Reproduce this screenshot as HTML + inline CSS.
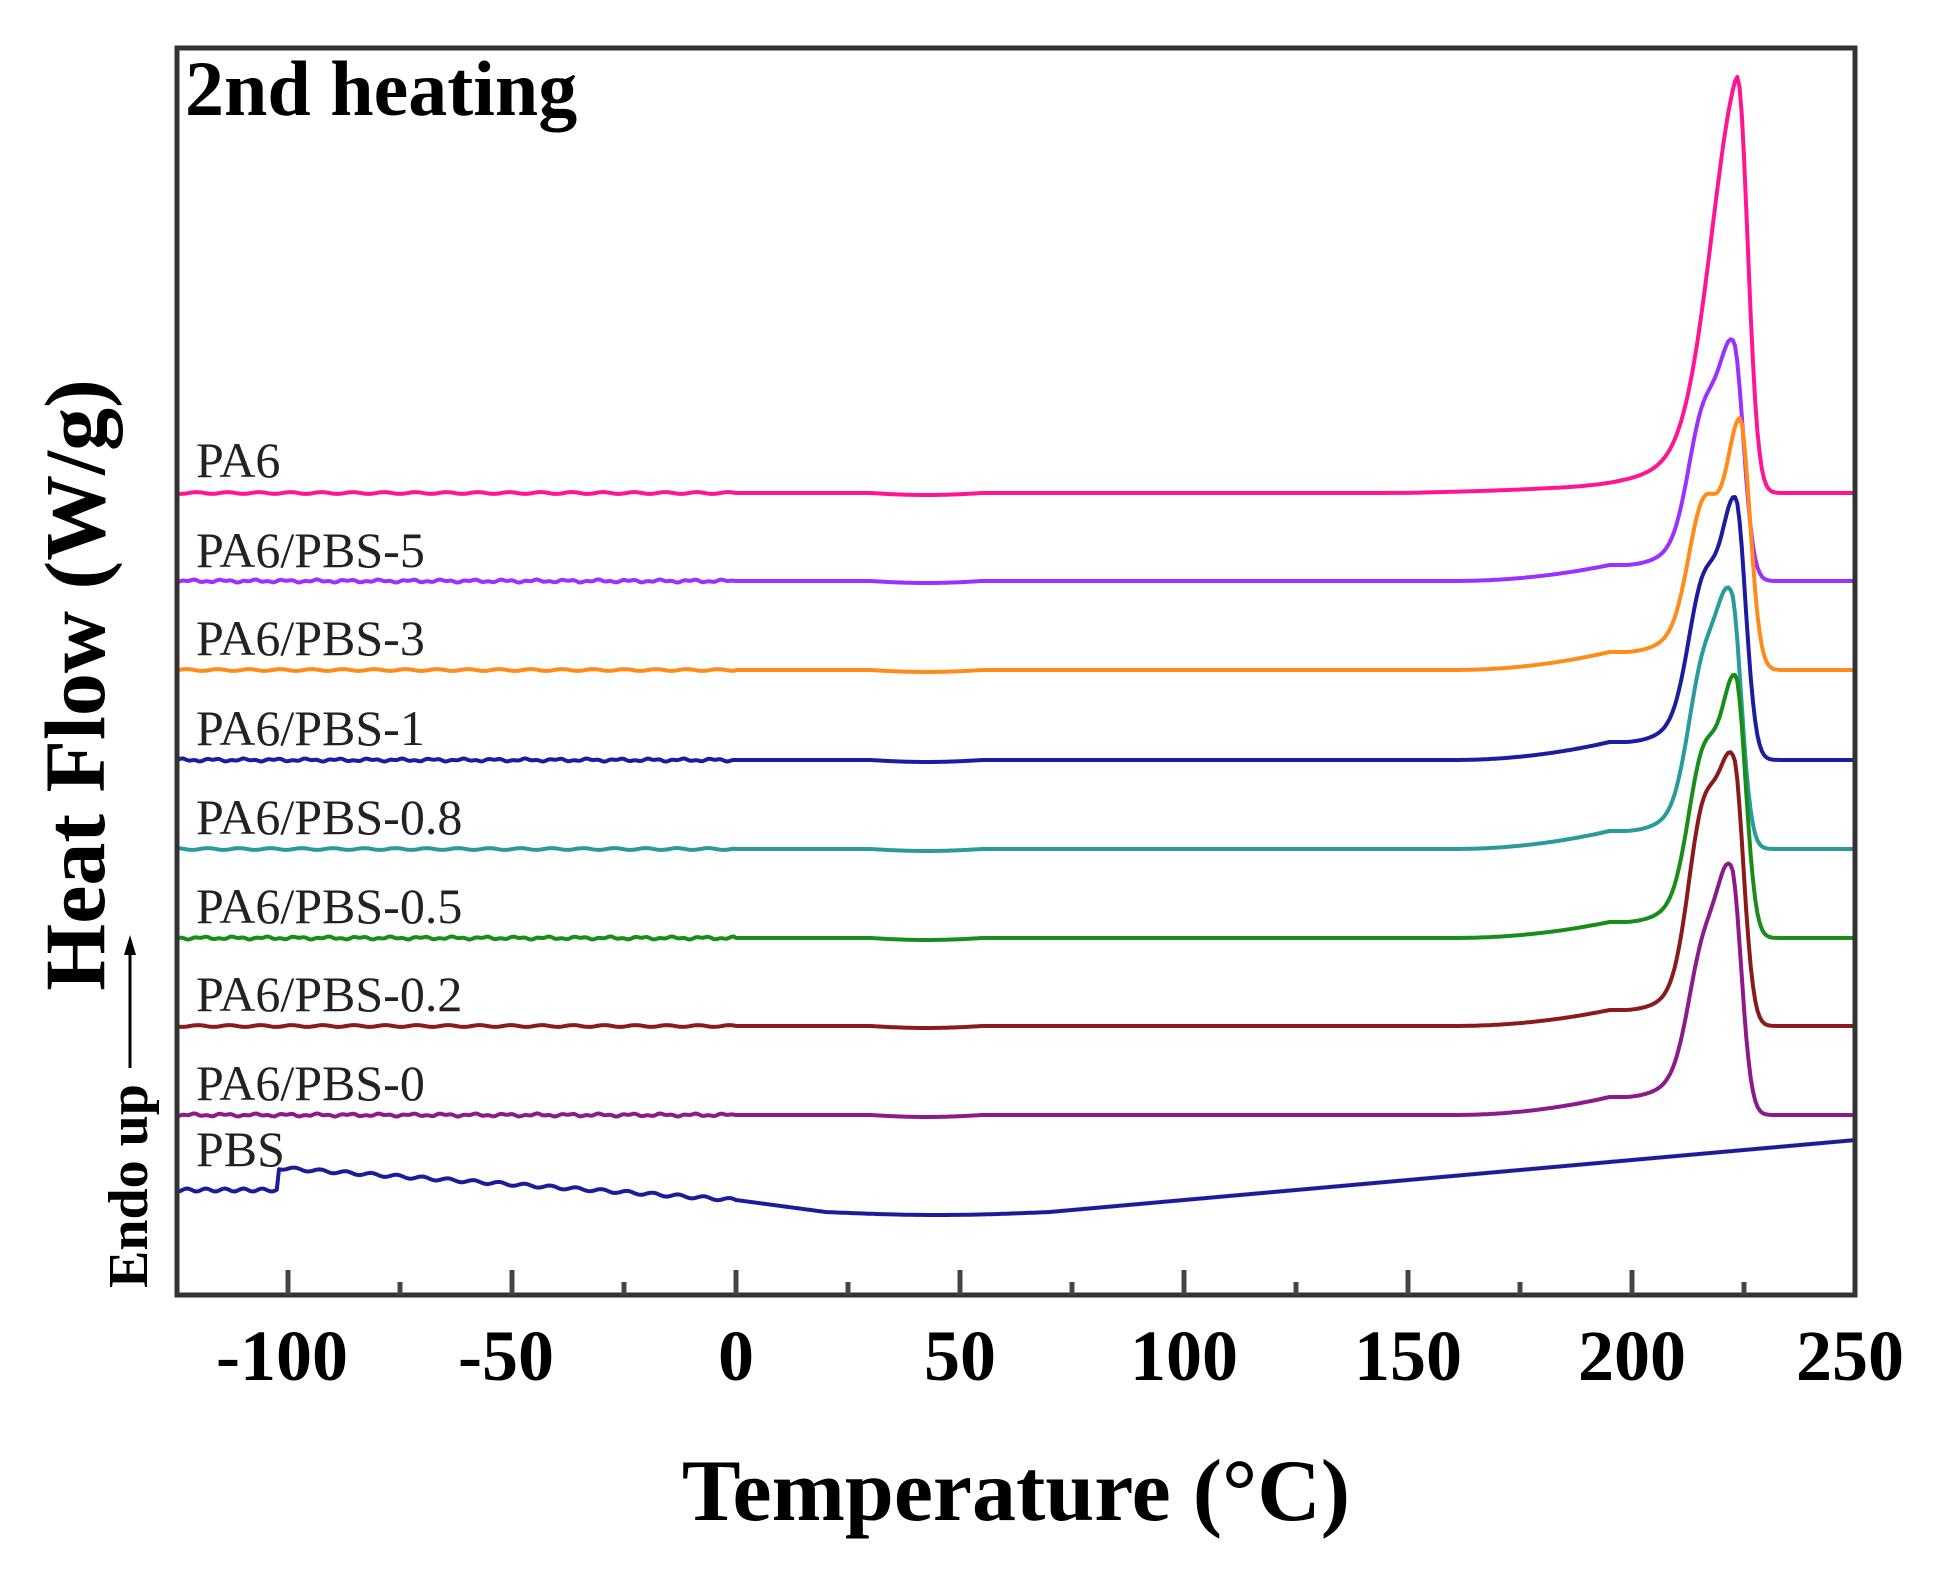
<!DOCTYPE html>
<html><head><meta charset="utf-8"><style>
html,body{margin:0;padding:0;background:#fff;}
svg{display:block;}
</style></head><body>
<svg id="s" width="1942" height="1571" xmlns="http://www.w3.org/2000/svg" font-family="Liberation Serif, serif">
<rect width="1942" height="1571" fill="#fff"/>
<g id="curves" fill="none" stroke-width="4" stroke-linejoin="round"></g>
<rect x="177" y="48" width="1678" height="1247" fill="none" stroke="#333" stroke-width="5"/>
<g id="ticks" stroke="#444" stroke-width="5"></g>
<text x="185" y="115" font-size="78" font-weight="bold">2nd heating</text>
<g font-size="50" fill="#222">
<text x="196" y="477">PA6</text>
<text x="196" y="567">PA6/PBS-5</text>
<text x="196" y="655">PA6/PBS-3</text>
<text x="196" y="745">PA6/PBS-1</text>
<text x="196" y="834">PA6/PBS-0.8</text>
<text x="196" y="923">PA6/PBS-0.5</text>
<text x="196" y="1011">PA6/PBS-0.2</text>
<text x="196" y="1100">PA6/PBS-0</text>
<text x="196" y="1166">PBS</text>
</g>
<g font-size="72" font-weight="bold" text-anchor="middle">
<text x="282" y="1380">-100</text>
<text x="506" y="1380">-50</text>
<text x="736" y="1380">0</text>
<text x="960" y="1380">50</text>
<text x="1184" y="1380">100</text>
<text x="1408" y="1380">150</text>
<text x="1632" y="1380">200</text>
<text x="1850" y="1380">250</text>
</g>
<text x="1016" y="1520" font-size="88" font-weight="bold" text-anchor="middle">Temperature (°C)</text>
<text transform="translate(104,685) rotate(-90)" font-size="86" font-weight="bold" text-anchor="middle">Heat Flow (W/g)</text>
<text transform="translate(147,1288) rotate(-90)" font-size="56" font-weight="bold">Endo up</text>
<line x1="130" y1="1068" x2="130" y2="950" stroke="#000" stroke-width="3"/>
<polygon points="130,935 124,955 136,955" fill="#000"/>
</svg>
<script>
var X=function(T){return 176+(T+125)*4.48;};
var tk=document.getElementById('ticks'),h='';
for(var t=-100;t<=225;t+=25){var x=X(t);var L=(t%50==0)?25:13;h+='<line x1="'+x+'" y1="1295" x2="'+x+'" y2="'+(1295-L)+'"/>';}
tk.innerHTML=h;
function g(T,m,s,a){return a*Math.exp(-Math.pow((T-m)/s,2)/2);}
var series=[
 ['#ff1493',493,223.5,416,0,0,1],
 ['#9b30ff',581,222.5,241,0.48,16,0],
 ['#ff8c1a',670,224,252,0.45,18,0],
 ['#1c1ca0',760,223,263,0.47,18,0],
 ['#2a9a9a',849,222,259,0.5,18,0],
 ['#1a8c1a',938,223,263,0.5,16,0],
 ['#8b1a1a',1026,222.5,271,0.6,16,0],
 ['#8b1a8b',1115,222,250,0.45,18,0]
];
var out='';
series.forEach(function(s,i){
 var c=s[0],b=s[1],Tp=s[2],H=s[3],sh=s[4],pre=s[5],pa6=s[6];
 var d='';
 for(var T=-125;T<=250;T+=0.5){
  var v=0;
  if(pa6){
   var A=127; v=(T<=Tp? g(T,Tp,6,H-A)+A*Math.exp((T-Tp)/10):H*Math.exp(-Math.pow((T-Tp)/2.3,2)/2));
   if(T>150&&T<Tp) v+=3*Math.min(1,(T-150)/30);
  } else {
   if(T<=Tp){
    var r=0;
    if(T>160) r=pre*Math.min(1,Math.pow((T-160)/35,2));
    if(T>198) r+=Math.pow((T-198)/10,2)*12;
    var Ts=216, ss=3.4;
    var sv=g(T,Ts,ss,H*sh);
    var rTp=pre+Math.pow((Tp-198)/10,2)*12;
    var mh=H-g(Tp,Ts,ss,H*sh)-rTp;
    var mv=g(T,Tp,2.8,mh);
    v=r+sv+mv;
   } else {
    v=H*Math.exp(-Math.pow((T-Tp)/2.3,2)/2);
   }
  }
  var w=0;
  if(T<0) w=0.9*Math.sin(T*0.9+i)+(i%2?0.7:0)*Math.sin(T*2.3);
  if(T>30&&T<55) w+=2*Math.sin((T-30)/25*Math.PI);
  var y=b-v+w;
  d+=(d?'L':'M')+X(T).toFixed(1)+','+y.toFixed(1);
 }
 out+='<path d="'+d+'" stroke="'+c+'"/>';
});
var d='';
for(var T=-125;T<=250;T+=0.5){
 var y;
 if(T<-102) y=1190+1.5*Math.sin(T*1.5);
 else if(T<0) y=1168+(T+102)/102*32+1.5*Math.sin(T*1.1);
 else if(T<20) y=1200+(T)/20*12;
 else if(T<70) y=1212+3*Math.sin((T-20)/50*Math.PI);
 else y=1212-(T-70)/180*72;
 d+=(d?'L':'M')+X(T).toFixed(1)+','+y.toFixed(1);
}
out+='<path d="'+d+'" stroke="#1c1c99"/>';
document.getElementById('curves').innerHTML=out;
</script>
</body></html>
